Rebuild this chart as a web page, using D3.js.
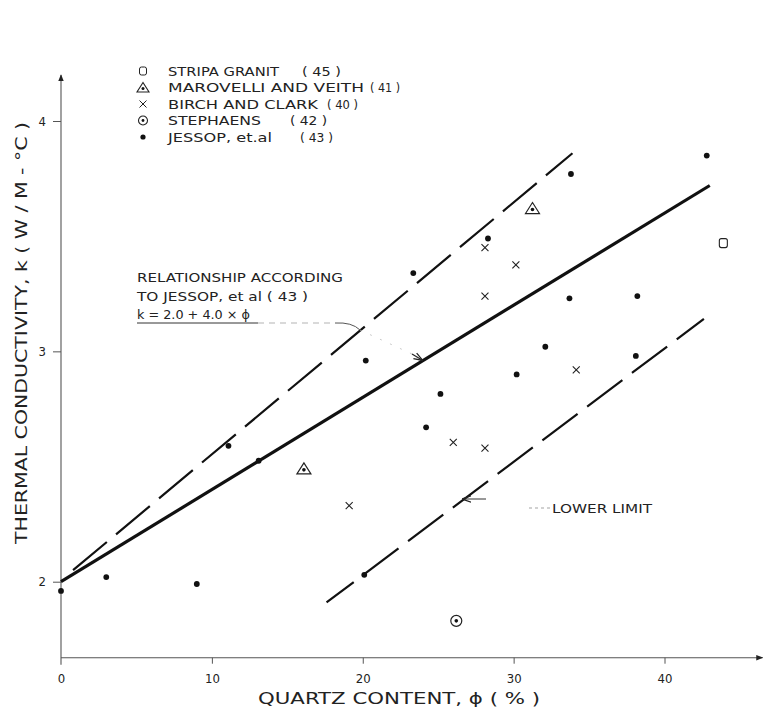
<!DOCTYPE html>
<html>
<head>
<meta charset="utf-8">
<script src="https://cdnjs.cloudflare.com/ajax/libs/d3/7.8.5/d3.min.js"></script>
<style>
  body { margin: 0; background: #fff; }
  svg text { font-family: "DejaVu Sans", sans-serif; fill: #222; }
</style>
</head>
<body>
<svg id="chart" width="764" height="717"></svg>
<script>
// data: [quartz %, k]
var jessop = [[0,1.96],[3,2.02],[9,1.99],[11.1,2.59],[13.1,2.525],[20.1,2.03],[20.2,2.96],
  [23.35,3.34],[24.2,2.67],[25.15,2.815],[28.3,3.49],[30.2,2.90],[32.1,3.02],
  [33.7,3.23],[33.8,3.77],[38.1,2.98],[38.2,3.24],[42.8,3.85]];
var birch = [[19.1,2.33],[26.0,2.605],[28.1,2.58],[28.1,3.24],[28.1,3.45],[30.15,3.375],[34.15,2.92]];
var marovelli = [[16.1,2.49],[31.25,3.62]];
var stephaens = [[26.2,1.83]];
var stripa = [[43.9,3.47]];

var fitLine = [[0,2.0],[43,3.72]];        // k = 2.0 + 4.0 x phi
var upperLimit = [[0.8,2.05],[33.9,3.86]];
var lowerLimit = [[17.6,1.91],[42.8,3.15]];

var xTicks = [0,10,20,30,40];
var yTicks = [2,3,4];
var xMax = 46.5, yMin = 1.67, yMax = 4.2;

var legendNames = ["STRIPA GRANIT","MAROVELLI AND VEITH","BIRCH AND CLARK","STEPHAENS","JESSOP, et.al"];
var legendRefs = ["( 45 )","( 41 )","( 40 )","( 42 )","( 43 )"];

var svg = d3.select("#chart");

var xScale = d3.scaleLinear().domain([0,40]).range([61,664.5]);
var yScale = d3.scaleLinear().domain([2,4]).range([581.7,121]);

var defs = svg.append("defs");
defs.append("marker").attr("id","axArrow").attr("viewBox","0 0 10 10")
  .attr("refX",9).attr("refY",5).attr("markerWidth",7).attr("markerHeight",7)
  .attr("markerUnits","userSpaceOnUse").attr("orient","auto")
  .append("path").attr("d","M0,1 L10,5 L0,9 Z").attr("fill","#222");
defs.append("marker").attr("id","smallArrow").attr("viewBox","0 0 10 10")
  .attr("refX",9).attr("refY",5).attr("markerWidth",9).attr("markerHeight",9)
  .attr("markerUnits","userSpaceOnUse").attr("orient","auto")
  .append("path").attr("d","M0,1.5 L10,5 L0,8.5").attr("fill","none").attr("stroke","#222").attr("stroke-width",1.4);

// axes
var x0 = xScale(0), yBase = yScale(yMin);
svg.append("line").attr("x1",x0).attr("x2",xScale(xMax)).attr("y1",yBase).attr("y2",yBase)
  .attr("stroke","#555").attr("stroke-width",1.1).attr("marker-end","url(#axArrow)");
svg.append("line").attr("x1",x0).attr("x2",x0).attr("y1",yBase+7).attr("y2",yScale(yMax))
  .attr("stroke","#555").attr("stroke-width",1.1).attr("marker-end","url(#axArrow)");

var xAxis = d3.axisBottom(xScale).tickValues(xTicks).tickSize(6).tickPadding(10).tickFormat(d3.format("d"));
var gx = svg.append("g").attr("transform","translate(0,"+yBase+")").call(xAxis);
gx.select(".domain").remove();
gx.selectAll(".tick line").attr("stroke","#555").filter(function(d){return d===0;}).remove();
gx.selectAll(".tick text").attr("font-size",13).attr("fill","#333").style("font-family","'Liberation Sans Narrow','DejaVu Sans Condensed',sans-serif");

var yAxis = d3.axisLeft(yScale).tickValues(yTicks).tickSize(8).tickPadding(7).tickFormat(d3.format("d"));
var gy = svg.append("g").attr("transform","translate("+x0+",0)").call(yAxis);
gy.select(".domain").remove();
gy.selectAll(".tick line").attr("stroke","#555");
gy.selectAll(".tick text").attr("font-size",13).attr("fill","#333").style("font-family","'Liberation Sans Narrow','DejaVu Sans Condensed',sans-serif");

// axis titles
svg.append("text").attr("x",258).attr("y",704).attr("font-size",16)
  .attr("textLength",282).attr("lengthAdjust","spacingAndGlyphs")
  .text("QUARTZ CONTENT,  \u03d5 ( % )");
svg.append("text").attr("transform","translate(27,333) rotate(-90)").attr("text-anchor","middle")
  .attr("font-size",16).attr("textLength",422).attr("lengthAdjust","spacingAndGlyphs")
  .text("THERMAL  CONDUCTIVITY,  k ( W / M - \u00b0C )");

// lines
var line = d3.line().x(function(d){return xScale(d[0]);}).y(function(d){return yScale(d[1]);});
svg.append("path").attr("d",line(upperLimit)).attr("fill","none").attr("stroke","#111")
  .attr("stroke-width",2.2).attr("stroke-dasharray","44,12");
svg.append("path").attr("d",line(lowerLimit)).attr("fill","none").attr("stroke","#111")
  .attr("stroke-width",2.2).attr("stroke-dasharray","34,12,44,12,44,12,44,12,44,12,44,12,44,12,44,12");
svg.append("path").attr("d",line(fitLine)).attr("fill","none").attr("stroke","#111")
  .attr("stroke-width",3.2);

// points
svg.append("g").selectAll("circle").data(jessop).enter().append("circle")
  .attr("cx",function(d){return xScale(d[0]);}).attr("cy",function(d){return yScale(d[1]);})
  .attr("r",2.9).attr("fill","#111");

svg.append("g").selectAll("path").data(birch).enter().append("path")
  .attr("transform",function(d){return "translate("+xScale(d[0])+","+yScale(d[1])+")";})
  .attr("d","M-3.5,-3.5 L3.5,3.5 M-3.5,3.5 L3.5,-3.5").attr("stroke","#222").attr("stroke-width",1.1);

var tri = svg.append("g").selectAll("g").data(marovelli).enter().append("g")
  .attr("transform",function(d){return "translate("+xScale(d[0])+","+yScale(d[1])+")";});
tri.append("path").attr("d","M0,-6 L7,5 L-7,5 Z").attr("fill","none").attr("stroke","#222").attr("stroke-width",1.2);
tri.append("circle").attr("cy",1).attr("r",1.8).attr("fill","#111");

var ste = svg.append("g").selectAll("g").data(stephaens).enter().append("g")
  .attr("transform",function(d){return "translate("+xScale(d[0])+","+yScale(d[1])+")";});
ste.append("circle").attr("r",5.5).attr("fill","none").attr("stroke","#222").attr("stroke-width",1.2);
ste.append("circle").attr("r",1.8).attr("fill","#111");

svg.append("g").selectAll("rect").data(stripa).enter().append("rect")
  .attr("x",function(d){return xScale(d[0])-4;}).attr("y",function(d){return yScale(d[1])-4.5;})
  .attr("width",8).attr("height",9).attr("rx",2).attr("fill","none").attr("stroke","#222").attr("stroke-width",1.1);

// legend
var legTop = 71, legStep = 16.5, symX = 143, txtX = 168;
var nameLen = [111,196,150,93,104];
var refX = [302,370,327,290,300];
var refLen = [39,30,31,37,33];
legendNames.forEach(function(name,i){
  var cy = legTop + i*legStep;
  var g = svg.append("g").attr("transform","translate("+symX+","+cy+")");
  if (i===0) g.append("rect").attr("x",-3.5).attr("y",-4).attr("width",7).attr("height",8).attr("rx",2)
      .attr("fill","none").attr("stroke","#222").attr("stroke-width",1);
  if (i===1) { g.append("path").attr("d","M0,-5 L6,4.5 L-6,4.5 Z").attr("fill","none").attr("stroke","#222").attr("stroke-width",1.1);
      g.append("circle").attr("cy",1).attr("r",1.5).attr("fill","#111"); }
  if (i===2) g.append("path").attr("d","M-3.5,-3.5 L3.5,3.5 M-3.5,3.5 L3.5,-3.5").attr("stroke","#222").attr("stroke-width",1);
  if (i===3) { g.append("circle").attr("r",4.5).attr("fill","none").attr("stroke","#222").attr("stroke-width",1.1);
      g.append("circle").attr("r",1.4).attr("fill","#111"); }
  if (i===4) g.append("circle").attr("r",2.6).attr("fill","#111");
  svg.append("text").attr("x",txtX).attr("y",cy+4.5).attr("font-size",12.5)
    .attr("textLength",nameLen[i]).attr("lengthAdjust","spacingAndGlyphs").text(name);
  svg.append("text").attr("x",refX[i]).attr("y",cy+4.5).attr("font-size",12.5)
    .attr("textLength",refLen[i]).attr("lengthAdjust","spacingAndGlyphs").text(legendRefs[i]);
});

// relationship annotation
svg.append("text").attr("x",137).attr("y",282).attr("font-size",13)
  .attr("textLength",206).attr("lengthAdjust","spacingAndGlyphs").text("RELATIONSHIP  ACCORDING");
svg.append("text").attr("x",137).attr("y",301).attr("font-size",13)
  .attr("textLength",171).attr("lengthAdjust","spacingAndGlyphs").text("TO  JESSOP, et al  ( 43 )");
svg.append("text").attr("x",137).attr("y",319).attr("font-size",13)
  .attr("textLength",113).attr("lengthAdjust","spacingAndGlyphs").text("k  =  2.0 + 4.0 \u00d7 \u03d5");
svg.append("line").attr("x1",137).attr("x2",258).attr("y1",323).attr("y2",323).attr("stroke","#333").attr("stroke-width",1);
svg.append("path").attr("d","M258,323 H335").attr("stroke","#aaa").attr("stroke-width",0.9)
  .attr("stroke-dasharray","6,5").attr("fill","none");
svg.append("path").attr("d","M335,323 Q352,322 360,330").attr("stroke","#555").attr("stroke-width",1).attr("fill","none");
svg.append("path").attr("d","M360,330 L412,354").attr("stroke","#bbb").attr("stroke-width",0.8)
  .attr("stroke-dasharray","2,9").attr("fill","none");
svg.append("path").attr("d","M412,354 L422,360").attr("stroke","#222").attr("stroke-width",1.2)
  .attr("fill","none").attr("marker-end","url(#smallArrow)");

// lower limit annotation
svg.append("path").attr("d","M486,499 H463").attr("stroke","#333").attr("stroke-width",1)
  .attr("fill","none").attr("marker-end","url(#smallArrow)");
svg.append("path").attr("d","M529,508 H551").attr("stroke","#999").attr("stroke-width",0.9)
  .attr("stroke-dasharray","3,3").attr("fill","none");
svg.append("text").attr("x",552).attr("y",513).attr("font-size",12.5)
  .attr("textLength",100).attr("lengthAdjust","spacingAndGlyphs").text("LOWER  LIMIT");
</script>
</body>
</html>
